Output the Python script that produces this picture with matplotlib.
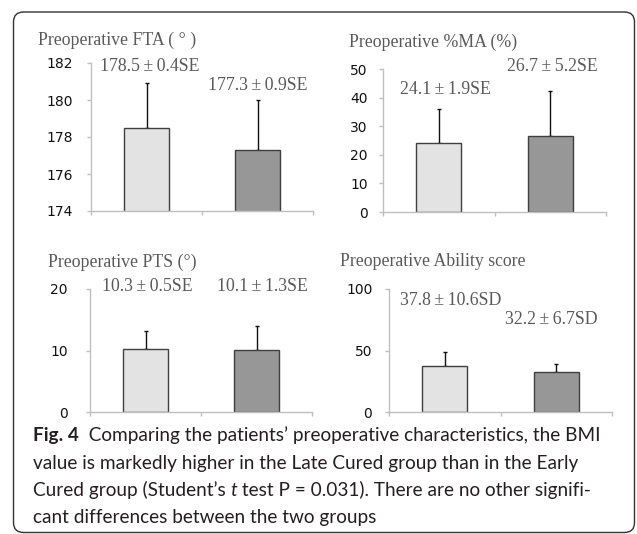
import matplotlib
matplotlib.use('Agg')
import matplotlib.pyplot as plt
import matplotlib.patches as mpatches

# values (means, upper error length, y ranges)
groups = ['Early Cured', 'Late Cured']

fta_means = [178.5, 177.3]
fta_err = [2.4, 2.7]
fta_labels = ['178.5\u2009\u00b1\u20090.4SE', '177.3\u2009\u00b1\u20090.9SE']

ma_means = [24.1, 26.7]
ma_err = [11.8, 15.6]
ma_labels = ['24.1\u2009\u00b1\u20091.9SE', '26.7\u2009\u00b1\u20095.2SE']

pts_means = [10.3, 10.1]
pts_err = [2.9, 3.9]
pts_labels = ['10.3\u2009\u00b1\u20090.5SE', '10.1\u2009\u00b1\u20091.3SE']

abil_means = [37.8, 32.2]
abil_err = [10.6, 6.7]
abil_labels = ['37.8\u2009\u00b1\u200910.6SD', '32.2\u2009\u00b1\u20096.7SD']

W, H = 637, 534
fig = plt.figure(figsize=(W / 100, H / 100), dpi=100)

bar_colors = ['#e3e3e3', '#979797']
axis_col = '#bfbfbf'
txt_col = '#595959'
serif = ['Liberation Serif', 'DejaVu Serif']


def px_rect(x0, x1, ytop, ybot):
    return [x0 / W, 1 - ybot / H, (x1 - x0) / W, (ybot - ytop) / H]


def panel(rect, means, err, ylim, yticks, title, title_xy, labels, label_pos, pad):
    ax = fig.add_axes(rect)
    xs = range(len(means))
    ax.bar(xs, means, width=0.4, color=bar_colors, edgecolor='#3f3f3f',
           linewidth=1.0, zorder=2)
    ax.errorbar(xs, means, yerr=[[0] * len(err), err], fmt='none',
                ecolor='#111111', elinewidth=1.0, capsize=1.6, capthick=1.0,
                zorder=1)
    ax.set_xlim(-0.5, 1.5)
    ax.set_ylim(*ylim)
    ax.set_yticks(yticks)
    ax.set_xticks([-0.5, 0.5, 1.5])
    ax.set_xticklabels([])
    for s in ['top', 'right']:
        ax.spines[s].set_visible(False)
    for s in ['left', 'bottom']:
        ax.spines[s].set_color(axis_col)
        ax.spines[s].set_linewidth(1.0)
    ax.tick_params(axis='both', colors=axis_col, length=3, width=1.0,
                   labelcolor='#111111', labelsize=10, pad=pad)
    ax.patch.set_alpha(0)
    fig.text(title_xy[0] / W, 1 - title_xy[1] / H, title, family=serif,
             fontsize=12.8, color=txt_col, va='center', ha='left')
    for lab, (lx, ly) in zip(labels, label_pos):
        ax.text(lx, ly, lab, family=serif, fontsize=12.8, color=txt_col,
                ha='center', va='center')
    return ax


panel(px_rect(91, 313, 63, 211), fta_means, fta_err, (174, 182),
      [174, 176, 178, 180, 182], 'Preoperative FTA ( \u00b0 )', (38, 40),
      fta_labels, [(0.03, 181.8), (1.0, 180.76)], 10)
panel(px_rect(383, 606, 69, 212), ma_means, ma_err, (0, 50),
      [0, 10, 20, 30, 40, 50], 'Preoperative %MA (%)', (349, 42),
      ma_labels, [(0.06, 42.7), (1.02, 50.7)], 8)
panel(px_rect(90, 312, 289, 412), pts_means, pts_err, (0, 20),
      [0, 10, 20], 'Preoperative PTS (\u00b0)', (48, 262),
      pts_labels, [(0.02, 20.4), (1.05, 20.4)], 13)
panel(px_rect(389, 612, 289, 412), abil_means, abil_err, (0, 100),
      [0, 50, 100], 'Preoperative Ability score', (340, 262),
      abil_labels, [(0.05, 91.0), (0.96, 75.6)], 9)

# rounded frame around figure + caption
box = mpatches.FancyBboxPatch((13.5 / 100, 1.5 / 100), 621 / 100, 520.5 / 100,
                              boxstyle='round,pad=0,rounding_size=0.1',
                              transform=fig.dpi_scale_trans, facecolor='none',
                              edgecolor='#333333', linewidth=1.0)
fig.patches.append(box)

cap_font = 'Lato'
cap_size = 13.7
cap_col = '#231f20'
fig.canvas.draw()
renderer = fig.canvas.get_renderer()


def text_run(x_px, y_px, pieces):
    x = x_px
    for s, kw in pieces:
        t = fig.text(x / W, 1 - y_px / H, s, family=cap_font, fontsize=cap_size,
                     color=cap_col, va='center', ha='left', **kw)
        bb = t.get_window_extent(renderer=renderer)
        x += bb.width


cap_x = 33
text_run(cap_x, 435, [('Fig. 4', dict(weight='bold')),
                      ('  Comparing the patients\u2019 preoperative characteristics, the BMI', {})])
text_run(cap_x, 463, [('value is markedly higher in the Late Cured group than in the Early', {})])
text_run(cap_x, 490, [('Cured group (Student\u2019s ', {}), ('t', dict(style='italic')),
                      (' test P = 0.031). There are no other signifi-', {})])
text_run(cap_x, 518, [('cant differences between the two groups', {})])

fig.savefig('out.png', dpi=100)
